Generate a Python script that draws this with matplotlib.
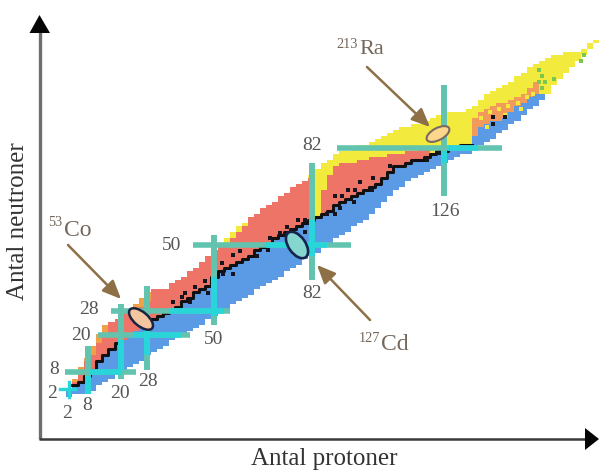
import numpy as np
import matplotlib
matplotlib.use("Agg")
import matplotlib.pyplot as plt
from matplotlib.patches import Ellipse

# ---------- data (columns: protons; values: neutrons) ----------
protons = np.arange(2, 178, 2)
blue_bottom = [-1,0,0,0,1,3,4,5,7,8,
               9,10,11,13,14,15,16,18,19,20,
               21,22,23,25,26,27,28,30,31,32,
               33,35,36,37,38,39,41,42,43,45,
               46,47,49,50,52,53,54,56,57,58,
               60,62,64,66,68,69,71,72,73,74,
               75,76,77,78,79,80,80,82,83,84,
               85,87,88,90,91,93,95,96,98,100,
               103,105,107,109,111,113,115,117]
blue_top = [1,3,4,6,8,11,13,15,17,18,
            19,21,22,23,25,26,27,28,29,31,
            32,34,35,36,39,41,42,43,44,45,
            46,48,49,50,52,53,54,55,56,57,
            58,59,60,61,63,64,65,66,67,68,
            69,70,72,74,76,76,77,78,78,79,
            80,81,81,82,82,83,83,86,89,90,
            91,91,92,94,96,97,99,100,100,100,
            103,105,107,109,111,113,115,117]
red_top = [2,4,8,11,13,17,20,24,25,27,
           28,28,29,31,35,35,35,37,38,39,
           41,42,44,46,48,49,50,52,54,56,
           59,60,62,63,64,66,67,69,70,71,
           72,59,68,73,76,77,77,77,78,78,
           79,79,79,80,80,80,81,81,82,82,
           80,81,81,82,82,83,83,92,94,95,
           96,97,97,98,99,100,102,104,100,100,
           103,105,107,109,111,113,115,117]
band_top = [2,5,9,12,16,20,23,24,25,27,
            28,30,32,34,35,35,35,37,38,39,
            41,42,44,46,48,50,52,54,56,57,
            59,60,62,63,64,66,67,69,70,71,
            73,75,77,78,80,81,81,82,83,83,
            84,85,86,87,88,89,89,90,90,91,
            92,93,94,94,94,94,95,96,98,100,
            101,102,103,104,106,107,109,110,111,112,
            113,113,114,114,114,115,117,118]

stable_a = [58.4,56.2,52.4,46.9,43.6,40.3,39.3,36.3,68.3,71.6,73.9,77.6,79.9,
            89.8,92,94,96.4,98,102.3,108,120,122,124,
            64,67.7,56.1,52.8,47.9,41.9,79.9,81.5,87.1,89.8,91.4,102,96,142,146,142]
stable_b = [47.7,46.3,43.7,37.7,35.7,33.7,32.3,30.7,52,53.7,55.7,58,58,
            66,66,68,68,70.7,72,76,78,82,80.3,
            46,48,40,40,33.7,30.7,54,57,60,60,62,68,64,92.3,92.3,90]
green_a = [157,157,158,158,159,162,171,172]
green_b = [108,104,106,102,104,105,111,113]
pale_a = [138,141,144,147,150,153,140,146,151,155]
pale_b = [92,94,95,96,97,99,89,93,95,100]

magic_x_labels = ["8", "20", "28", "50", "82", "126"]
magic_x = [8.25, 19.1, 27.7, 49.8, 82.2, 125.7]
magic_x_low = [0, 5, 8, 23, 38, 66]
magic_x_high = [16, 30, 36, 53, 77, 103]
magic_y_labels = ["8", "20", "28", "50", "82"]
magic_y = [7.3, 19.7, 27.7, 49.7, 82]
magic_y_low = [0.7, 11.5, 16, 43, 90.4]
magic_y_high = [24, 42, 55, 95, 145]

# ---------- layout ----------
W, H = 599, 472
X0, SX = 63.0, 3.03
Y0, SY = 394.0, 3.0
BLUE, RED, YELLOW = "#5b9be6", "#ee7468", "#f2ea3c"
ORANGE_TOP, MIX = "#efa048", "#f19a5c"
TEAL, CYAN = "#62c4ae", "#28d6da"
GREY, BROWN, TAN = "#555555", "#8d7045", "#75675a"

fig = plt.figure(figsize=(W / 100, H / 100), dpi=100)
ax = fig.add_axes([0, 0, 1, 1])
ax.set_xlim((0 - X0) / SX, (W - X0) / SX)
ax.set_ylim((Y0 - H) / SY, Y0 / SY)
ax.axis("off")
ov = fig.add_axes([0, 0, 1, 1], zorder=3)
ov.set_xlim(0, W)
ov.set_ylim(H, 0)
ov.axis("off")
ov.patch.set_alpha(0)

bottom = np.array(blue_bottom, float)
btop = np.array(blue_top, float)
rtop = np.array(red_top, float)
ttop = np.array(band_top, float)

kw = dict(width=2.0, linewidth=0, antialiased=False)
ax.bar(protons, btop - bottom, bottom=bottom, color=BLUE, **kw)
ax.bar(protons, rtop - btop, bottom=btop,
       color=[MIX if p >= 136 else RED for p in protons], **kw)
ax.bar(protons, ttop - rtop, bottom=rtop,
       color=[ORANGE_TOP if p < 40 else YELLOW for p in protons], **kw)
ax.scatter(pale_a, pale_b, s=9, marker="s", color=YELLOW, linewidths=0, zorder=3)
ax.scatter(green_a, green_b, s=8, marker="s", color="#7cc84e", linewidths=0, zorder=3)

# stability line (hidden where the magic crosses cover it)
stable = btop.copy()
stable[(protons < 4) | ((protons > 18) & (protons < 28)) | (protons > 134)] = np.nan
ax.step(protons, stable, where="mid", color="#111111", lw=2.2, zorder=4)
ax.scatter(stable_a, stable_b, s=6, marker="s", color="#15151f", linewidths=0, zorder=4)

# magic-number lines
for x, lo, hi in zip(magic_x, magic_x_low, magic_x_high):
    ax.plot([x, x], [lo, hi], color=TEAL, lw=4.3, solid_capstyle="butt", zorder=5)
    i = int(np.argmin(np.abs(protons - x)))
    ax.plot([x, x], [max(lo, bottom[i]), min(hi, btop[i])], color=CYAN, lw=4.3,
            solid_capstyle="butt", zorder=6)
for y, lo, hi in zip(magic_y, magic_y_low, magic_y_high):
    ax.plot([lo, hi], [y, y], color=TEAL, lw=4.0, solid_capstyle="butt", zorder=5)
    inside = protons[(bottom <= y) & (btop >= y) & (protons >= lo) & (protons <= hi)]
    if inside.size:
        ax.plot([inside.min() - 1, inside.max() + 1], [y, y], color=CYAN, lw=4.0,
                solid_capstyle="butt", zorder=6)
ax.plot([2, 2], [-1, 4], color=CYAN, lw=2.4, zorder=6)
ax.plot([-1, 4], [1.7, 1.7], color=CYAN, lw=2.4, zorder=6)

# overlay: axes, ellipses, arrows, labels
ov.plot([39.5, 39.5], [439, 30], color="#6e6e6e", lw=2.4, solid_capstyle="butt")
ov.plot([38.5, 588], [438.7, 438.7], color="#3a3a3a", lw=1.8, solid_capstyle="butt")
ov.fill([39.5, 29.5, 50], [15, 33, 33], color="#050505", lw=0, zorder=4)
ov.fill([599, 585, 585], [439, 428, 450], color="#050505", lw=0, zorder=4)

ellipses = [((141, 319), 29, 14, 40, "#f4c6a0", "#1a2340", 1.8),
            ((297, 245), 30, 17, 55, "#86d6d0", "#14244c", 1.9),
            ((438, 134), 25, 12, -28, "#fbd68c", "#7a6b60", 1.5)]
for c, w, h, ang, fc, ec, lw in ellipses:
    ov.add_patch(Ellipse(c, w, h, angle=ang, facecolor=fc, edgecolor=ec, lw=lw, zorder=4))

brown = dict(arrowstyle="-|>,head_length=0.8,head_width=0.35", color=BROWN, lw=1.8,
             shrinkA=0, shrinkB=0, mutation_scale=14)
ov.annotate("", xy=(121, 299), xytext=(68, 245), arrowprops=brown)
ov.annotate("", xy=(317, 265), xytext=(370, 320), arrowprops=brown)
ov.annotate("", xy=(430, 127), xytext=(367, 67), arrowprops=brown)

serif = "Liberation Serif"
ov.text(324, 459, "Antal protoner", family=serif, fontsize=18, color="#333333",
        ha="center", va="center")
ov.text(18, 221, "Antal neutroner", family=serif, fontsize=18, color="#333333",
        ha="center", va="center", rotation=90)

num_x_pos = [87, 120, 148, 214, 312, 445]
num_x_y = [406, 393, 382, 339, 293, 212]
for s, x, y in zip(magic_x_labels, num_x_pos, num_x_y):
    ov.text(x, y, s, family=serif, fontsize=14, color=GREY, ha="center", va="center")
num_y_pos = [54, 81, 89, 172, 312]
num_y_y = [370, 335, 310, 245, 146]
for s, x, y in zip(magic_y_labels, num_y_pos, num_y_y):
    ov.text(x, y, s, family=serif, fontsize=14, color=GREY, ha="center", va="center")
ov.text(52, 393, "2", family=serif, fontsize=14, color=GREY, ha="center", va="center")
ov.text(67, 413, "2", family=serif, fontsize=14, color=GREY, ha="center", va="center")

for sup, main, xs, ys, xm, ym, fs in [("53", "Co", 48.5, 222, 64, 230, 17),
                                      ("127", "Cd", 359, 338, 381, 344, 17),
                                      ("213", "Ra", 336, 44, 359, 50, 16)]:
    ov.text(xs, ys, sup, family=serif, fontsize=10.3, color=TAN, ha="left", va="center")
    ov.text(xm, ym, main, family=serif, fontsize=fs, color=TAN, ha="left", va="center")

fig.savefig("out.png", dpi=100)
